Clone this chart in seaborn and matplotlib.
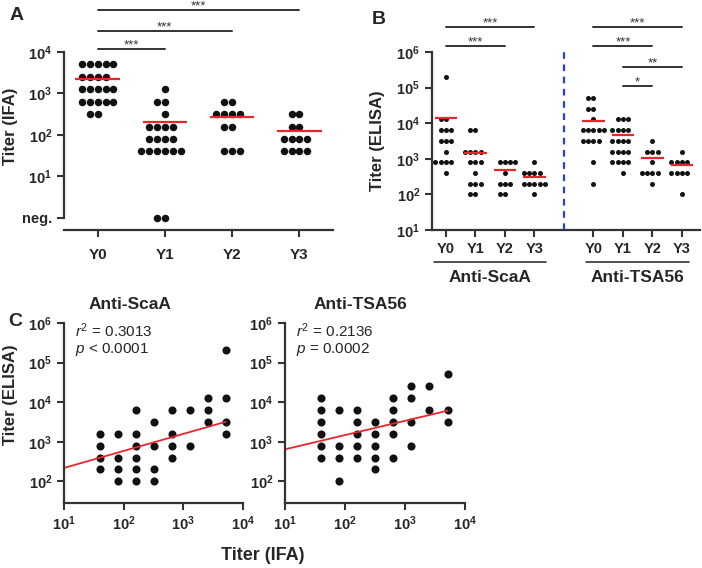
import numpy as np
import pandas as pd
import seaborn as sns
import matplotlib.pyplot as plt
from matplotlib.ticker import NullLocator

sns.set_style('ticks')
plt.rcParams['font.family'] = ['Liberation Sans', 'DejaVu Sans']
plt.rcParams['mathtext.fontset'] = 'custom'
plt.rcParams['mathtext.rm'] = 'Liberation Sans'
plt.rcParams['mathtext.it'] = 'Liberation Sans:italic'
plt.rcParams['mathtext.bf'] = 'Liberation Sans:bold'

#---DADOS---

#Painel A: titulo IFA por ano (neg. = 1 no eixo log)
anos = ['Y0', 'Y1', 'Y2', 'Y3']
ifa_y0 = [5120]*5 + [2560]*4 + [1280]*5 + [640]*5 + [320]*2
ifa_y1 = [1280]*1 + [640]*2 + [320]*1 + [160]*4 + [80]*4 + [40]*6 + [1]*2
ifa_y2 = [640]*2 + [320]*4 + [160]*2 + [40]*3
ifa_y3 = [320]*2 + [160]*2 + [80]*4 + [40]*4
ifa_medias = [2200, 210, 270, 125]

#Painel B: titulo ELISA por ano, dois antigenos
scaa_y0 = [204800] + [12800]*2 + [6400]*3 + [3200]*3 + [1600]*1 + [800]*4 + [400]*1
scaa_y1 = [6400]*2 + [1600]*4 + [800]*3 + [400]*1 + [200]*3 + [100]*2
scaa_y2 = [800]*4 + [400]*1 + [200]*3 + [100]*2
scaa_y3 = [800]*1 + [400]*4 + [200]*5 + [100]*1
scaa_medias = [14000, 1450, 470, 310]

tsa_y0 = [51200]*2 + [25600]*2 + [12800]*1 + [6400]*5 + [3200]*4 + [800]*1 + [200]*1
tsa_y1 = [12800]*3 + [6400]*4 + [3200]*4 + [1600]*4 + [800]*4 + [400]*1
tsa_y2 = [3200]*1 + [1600]*3 + [800]*1 + [400]*4 + [200]*1
tsa_y3 = [1600]*1 + [800]*4 + [400]*4 + [100]*1
tsa_medias = [11500, 4600, 1050, 660]

#Painel C: IFA x ELISA
scaa_ifa = [40]*4 + [80]*4 + [160]*6 + [320]*4 + [640]*4 + [1280]*2 + [2560]*3 + [5120]*4
scaa_elisa = [1600, 800, 400, 200,
              1600, 400, 200, 100,
              6400, 1600, 800, 400, 200, 100,
              3200, 800, 200, 100,
              6400, 1600, 800, 400,
              6400, 800,
              12800, 6400, 3200,
              204800, 12800, 3200, 1600]
tsa_ifa = [40]*6 + [80]*4 + [160]*5 + [320]*5 + [640]*5 + [1280]*4 + [2560]*2 + [5120]*3
tsa_elisa = [12800, 6400, 3200, 1600, 800, 400,
             6400, 800, 400, 100,
             6400, 3200, 1600, 800, 400,
             3200, 1600, 800, 400, 200,
             12800, 6400, 3200, 1600, 400,
             25600, 12800, 3200, 800,
             25600, 6400,
             51200, 6400, 3200]
#reta de regressao em log10 (inclinacao, intercepto)
fit_scaa = (0.43, 1.91)
fit_tsa = (0.36, 2.45)
stats_scaa = ['$\\it{r}^2$ = 0.3013', '$\\it{p}$ < 0.0001']
stats_tsa = ['$\\it{r}^2$ = 0.2136', '$\\it{p}$ = 0.0002']

PRETO = '#111111'
VERMELHO = '#e8262b'
CINZA = '#333333'


def caixa(x0, y0, x1, y1):
    #retangulo em pixels (origem no topo) -> fração da figura
    return [x0 / 702, 1 - y1 / 568, (x1 - x0) / 702, (y1 - y0) / 568]


def bf(k):
    return '$\\mathbf{10^{%d}}$' % k


def estilo(ax):
    for lado in ['top', 'right']:
        ax.spines[lado].set_visible(False)
    for lado in ['left', 'bottom']:
        ax.spines[lado].set_linewidth(1.6)
        ax.spines[lado].set_color(CINZA)
    ax.tick_params(direction='out', length=5, width=1.5, color=CINZA, labelsize=10.5)
    ax.yaxis.set_minor_locator(NullLocator())
    ax.set_xlabel('')
    ax.set_ylabel('')


def barra(ax, x0, x1, y, txt):
    tr = ax.get_xaxis_transform()
    ax.plot([x0, x1], [y, y], color=CINZA, lw=1.4, transform=tr, clip_on=False)
    ax.text((x0 + x1) / 2, y + 0.004, txt, ha='center', va='baseline', fontsize=9.5,
            color=CINZA, transform=tr)


fig = plt.figure(figsize=(7.02, 5.68), dpi=100)

#---PAINEL A---
axA = fig.add_axes(caixa(64, 52, 333, 230))
axA.set_yscale('log')
dfA = pd.DataFrame({'ano': np.repeat(anos, [len(ifa_y0), len(ifa_y1), len(ifa_y2), len(ifa_y3)]),
                    'titer': ifa_y0 + ifa_y1 + ifa_y2 + ifa_y3})
sns.swarmplot(data=dfA, x='ano', y='titer', order=anos, color=PRETO, size=5.4,
              linewidth=0, ax=axA)
for i, m in enumerate(ifa_medias):
    axA.hlines(m, i - 0.33, i + 0.33, color=VERMELHO, lw=1.6, zorder=5)
axA.set_ylim(10 ** -0.29, 1e4)
axA.set_xlim(-0.5, 3.5)
estilo(axA)
axA.spines['left'].set_bounds(1, 1e4)
axA.set_yticks([1, 10, 100, 1000, 10000])
axA.set_yticklabels(['neg.', bf(1), bf(2), bf(3), bf(4)], fontweight='bold')
axA.set_xticks(range(4))
axA.set_xticklabels(anos, fontweight='bold', fontsize=11)
axA.tick_params(axis='x', pad=8)
axA.set_ylabel('Titer (IFA)', fontsize=12, fontweight='bold')
axA.yaxis.set_label_coords(-0.172, 0.58)
barra(axA, 0, 1, 1.017, '***')
barra(axA, 0, 2, 1.118, '***')
barra(axA, 0, 3, 1.236, '***')
fig.text(10 / 702, 1 - 16 / 568, 'A', fontsize=14, fontweight='bold', va='center')

#---PAINEL B---
axB = fig.add_axes(caixa(432, 52, 700, 230))
axB.set_yscale('log')
grupos_b = [scaa_y0, scaa_y1, scaa_y2, scaa_y3, tsa_y0, tsa_y1, tsa_y2, tsa_y3]
pos_b = [0, 1, 2, 3, 5, 6, 7, 8]
dfB = pd.DataFrame({'pos': np.repeat(pos_b, [len(g) for g in grupos_b]),
                    'titer': sum(grupos_b, [])})
sns.swarmplot(data=dfB, x='pos', y='titer', native_scale=True, color=PRETO,
              size=3.6, linewidth=0, ax=axB)
for p, m in zip(pos_b, scaa_medias + tsa_medias):
    axB.hlines(m, p - 0.38, p + 0.38, color=VERMELHO, lw=1.6, zorder=5)
axB.axvline(4, color='#2a3cf0', lw=1.6, ls=(0, (3, 2.5)))
axB.set_ylim(10, 1e6)
axB.set_xlim(-0.47, 8.61)
estilo(axB)
axB.set_yticks([10, 100, 1000, 1e4, 1e5, 1e6])
axB.set_yticklabels([bf(k) for k in range(1, 7)])
axB.set_xticks(pos_b)
axB.set_xticklabels(anos + anos, fontweight='bold', fontsize=10.5)
axB.set_ylabel('Titer (ELISA)', fontsize=12, fontweight='bold')
axB.yaxis.set_label_coords(-0.175, 0.5)
trB = axB.get_xaxis_transform()
for x0, x1, nome in [(-0.4, 3.4, 'Anti-ScaA'), (4.75, 8.25, 'Anti-TSA56')]:
    axB.plot([x0, x1], [-0.18, -0.18], color=CINZA, lw=1.2, transform=trB, clip_on=False)
    axB.text((x0 + x1) / 2, -0.265, nome, ha='center', va='center', fontsize=12.5,
             fontweight='bold', transform=trB)
barra(axB, 0, 3, 1.14, '***')
barra(axB, 0, 2, 1.034, '***')
barra(axB, 5, 8, 1.14, '***')
barra(axB, 5, 7, 1.034, '***')
barra(axB, 6, 8, 0.916, '**')
barra(axB, 6, 7, 0.809, '*')
fig.text(372 / 702, 1 - 20 / 568, 'B', fontsize=14, fontweight='bold', va='center')

#---PAINEL C---
paineis_c = [
    (caixa(64, 323, 243, 503), scaa_ifa, scaa_elisa, fit_scaa, 'Anti-ScaA', stats_scaa, 0.37),
    (caixa(285, 323, 465, 503), tsa_ifa, tsa_elisa, fit_tsa, 'Anti-TSA56', stats_tsa, 0.42),
]
for n, (rect, xs, ys, fit, titulo, stats, tx) in enumerate(paineis_c):
    ax = fig.add_axes(rect)
    ax.set_xscale('log')
    ax.set_yscale('log')
    sns.scatterplot(x=xs, y=ys, color=PRETO, s=34, linewidth=0, ax=ax)
    lx = np.array([1, np.log10(max(xs))])
    ax.plot(10 ** lx, 10 ** (fit[0] * lx + fit[1]), color=VERMELHO, lw=1.3)
    ax.set_xlim(10, 1e4)
    ax.set_ylim(10 ** 1.455, 1e6)
    estilo(ax)
    ax.xaxis.set_minor_locator(NullLocator())
    ax.set_xticks([10, 100, 1000, 1e4])
    ax.set_xticklabels([bf(k) for k in range(1, 5)])
    ax.set_yticks([100, 1000, 1e4, 1e5, 1e6])
    ax.set_yticklabels([bf(k) for k in range(2, 7)])
    ax.text(tx, 1.1, titulo, transform=ax.transAxes, ha='center', va='center',
            fontsize=12.5, fontweight='bold')
    ax.text(0.06, 0.96, stats[0], transform=ax.transAxes, ha='left', va='center', fontsize=11)
    ax.text(0.06, 0.85, stats[1], transform=ax.transAxes, ha='left', va='center', fontsize=11)
    if n == 0:
        ax.set_ylabel('Titer (ELISA)', fontsize=12, fontweight='bold')
        ax.yaxis.set_label_coords(-0.255, 0.6)

fig.text(263 / 702, 1 - 556 / 568, 'Titer (IFA)', ha='center', va='center',
         fontsize=13, fontweight='bold')
fig.text(8 / 702, 1 - 322 / 568, 'C', fontsize=14, fontweight='bold', va='center')

plt.savefig('out.png', dpi=100)
